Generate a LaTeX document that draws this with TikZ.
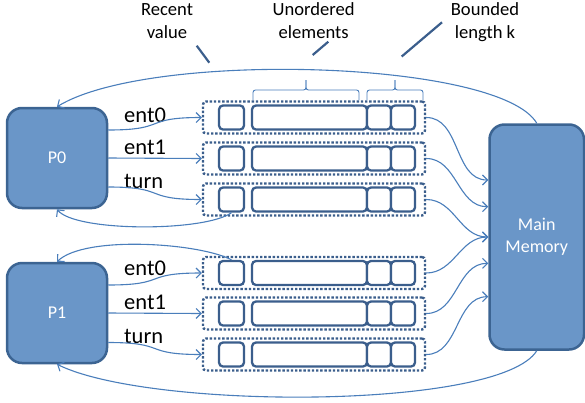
\documentclass[tikz,border=0pt]{standalone}
\usepackage{fontspec}
\setmainfont{Carlito}
\usetikzlibrary{arrows.meta}
\definecolor{boxfill}{HTML}{6A96C8}
\definecolor{boxedge}{HTML}{3C6492}
\definecolor{wirecol}{HTML}{4A7EBB}
\definecolor{cellcol}{HTML}{3B5E8C}
\tikzset{
  proc/.style={draw=boxedge, line width=2.5pt, fill=boxfill, rounded corners=15pt,
    text=white, font=\fontsize{18}{22.5}\selectfont, align=center, inner sep=0pt},
  regbox/.style={draw=cellcol, line width=2.4pt, dash pattern=on 2.4pt off 1.8pt,
    rounded corners=3pt, minimum width=222pt, minimum height=32pt, inner sep=0pt},
  cellbox/.style={draw=cellcol, line width=2.3pt, fill=white, rounded corners=4pt,
    minimum height=24pt, inner sep=0pt},
  wire/.style={draw=wirecol, line width=1.1pt},
  arr/.style={-{Straight Barb[length=5pt,width=10pt]}},
  note/.style={font=\fontsize{18.6}{22.6}\selectfont, align=center, inner sep=0pt},
  lbl/.style={font=\fontsize{22.5}{26}\selectfont, anchor=base west, inner sep=0pt},
  pointer/.style={draw=cellcol, line width=2.2pt},
  bracket/.style={draw=wirecol, line width=0.9pt, rounded corners=2.5pt}
}
\begin{document}
\begin{tikzpicture}[x=1pt,y=-1pt]
\useasboundingbox (0,0) rectangle (585,402);

% processes and memory
\node[proc, minimum width=100pt, minimum height=100pt] (p0) at (57,158) {P0};
\node[proc, minimum width=100pt, minimum height=100pt] (p1) at (57,313) {P1};
\node[proc, minimum width=94.5pt, minimum height=225pt] (mem) at (536.75,237) {Main\\Memory};

% registers: each one a dotted frame holding four cells
\foreach \i/\y in {1/117.5,2/158.5,3/199.5,4/273,5/313.5,6/354.5} {
  \node[regbox] (row\i) at (314,\y) {};
  \node[cellbox, minimum width=25pt] (sb\i) at (231.5,\y) {};
  \node[cellbox, minimum width=115pt] (lb\i) at (309.5,\y) {};
  \node[cellbox, minimum width=24pt] (ca\i) at (379,\y) {};
  \node[cellbox, minimum width=24pt] (cb\i) at (403,\y) {};
}

% variable names
\node[lbl] (l0a) at (124,122) {ent0};
\node[lbl] (l0b) at (124,154) {ent1};
\node[lbl] (l0c) at (124,188) {turn};
\node[lbl] (l1a) at (124,275) {ent0};
\node[lbl] (l1b) at (124,309) {ent1};
\node[lbl] (l1c) at (124,343) {turn};

% writes from the processes into the registers
\draw[wire,arr] ([yshift=28pt]p0.east) .. controls +(60,0) and +(-60,0) .. (row1.west);
\draw[wire,arr] (p0.east) -- (row2.west);
\draw[wire,arr] ([yshift=-29pt]p0.east) .. controls +(60,0) and +(-60,0) .. (row3.west);
\draw[wire,arr] ([yshift=28pt]p1.east) .. controls +(60,0) and +(-60,0) .. (row4.west);
\draw[wire,arr] (p1.east) -- (row5.west);
\draw[wire,arr] ([yshift=-29.5pt]p1.east) .. controls +(60,0) and +(-60,0) .. (row6.west);

% registers flushed to main memory
\draw[wire,arr] (row1.east) to[out=0,in=180] ([yshift=57pt]mem.west);
\draw[wire,arr] (row2.east) to[out=0,in=180] ([yshift=30.3pt]mem.west);
\draw[wire,arr] (row3.east) to[out=0,in=180] (mem.west);
\draw[wire,arr] (row4.east) to[out=0,in=180] (mem.west);
\draw[wire,arr] (row5.east) to[out=0,in=180] ([yshift=-26.3pt]mem.west);
\draw[wire,arr] (row6.east) to[out=0,in=180] ([yshift=-59.7pt]mem.west);

% reads back into the processes
\draw[wire,arr] (mem.north) .. controls (500,60) and (150,50) .. (p0.north);
\draw[wire,arr] (sb3.south) .. controls (205,232) and (75,232) .. (p0.south);
\draw[wire,arr] (sb4.north) .. controls (200,243) and (85,235) .. (p1.north);
\draw[wire,arr] (mem.south) .. controls (500,410) and (150,410) .. (p1.south);

% braces over the first register
\draw[bracket] (253,100) |- (306,90) -- (306,80);
\draw[bracket] (306,80) -- (306,90) -| (359,100);
\draw[bracket] (367,100) |- (395,90) -- (395,80);
\draw[bracket] (395,80) -- (395,90) -| (423,100);

% annotations (anchor base = baseline of the last line)
\node[note, anchor=base] (n1) at (167,38.3) {Recent\\value};
\node[note, anchor=base] (n2) at (313.6,38.3) {Unordered\\elements};
\node[note, anchor=base] (n3) at (485,38.3) {Bounded\\length k};
\coordinate (n1a) at (196.7,45.7);  \coordinate (n1b) at (209.3,62.7);
\coordinate (n2a) at (328.3,41.7);  \coordinate (n2b) at (312.7,55);
\coordinate (n3a) at (442,22.3);    \coordinate (n3b) at (401.7,56.5);
\draw[pointer] (n1a) -- (n1b);
\draw[pointer] (n2a) -- (n2b);
\draw[pointer] (n3a) -- (n3b);
\end{tikzpicture}
\end{document}
